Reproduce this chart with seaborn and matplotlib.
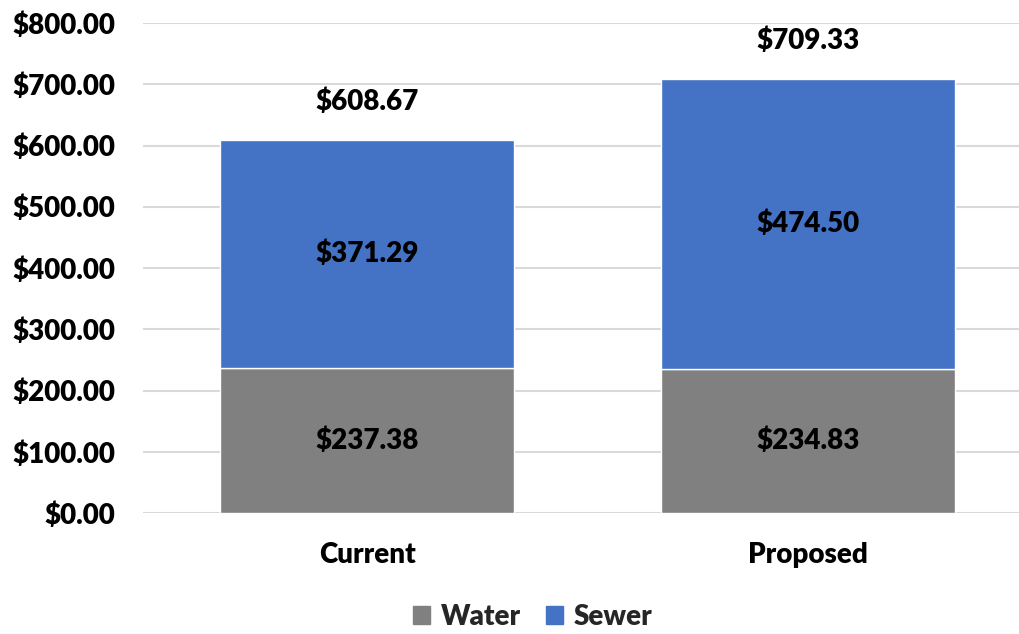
import matplotlib
matplotlib.use("Agg")
import matplotlib.pyplot as plt
import seaborn as sns
import pandas as pd
from matplotlib.ticker import FuncFormatter
from matplotlib.patches import Patch

categories = ["Current", "Proposed"]
water = [237.38, 234.83]
sewer = [371.29, 474.50]
totals = [608.67, 709.33]
yticks = [0, 100, 200, 300, 400, 500, 600, 700, 800]

WATER_C = "#808080"
SEWER_C = "#4472C4"

sns.set_theme(style="white")
plt.rcParams["font.family"] = ["Lato", "DejaVu Sans"]
plt.rcParams["font.weight"] = "bold"

df = pd.DataFrame({"cat": categories, "water": water, "sewer": sewer, "total": totals})

fig = plt.figure(figsize=(10.19, 6.34), dpi=100)
ax = fig.add_axes([143 / 1019, (634 - 513) / 634, (1019 - 143) / 1019, 490 / 634])

sns.barplot(data=df, x="cat", y="water", color=WATER_C, width=0.667,
            saturation=1, ax=ax, zorder=3)
sns.barplot(data=df, x="cat", y="sewer", bottom=df["water"], color=SEWER_C,
            width=0.667, saturation=1, ax=ax, zorder=3)

ax.set_xlim(-0.508, 1.478)
ax.set_ylim(0, 800)
ax.set_yticks(yticks)
ax.yaxis.set_major_formatter(FuncFormatter(lambda v, p: f"${v:,.2f}"))
ax.grid(axis="y", color="#D9D9D9", linewidth=1.5, zorder=0)
ax.set_axisbelow(True)
for s in ax.spines.values():
    s.set_visible(False)
ax.set_xlabel("")
ax.set_ylabel("")
ax.tick_params(axis="y", length=0, pad=20, labelsize=20)
ax.tick_params(axis="x", length=0, pad=21, labelsize=20)
for lab in ax.get_yticklabels() + ax.get_xticklabels():
    lab.set_fontweight("heavy")
    lab.set_color("black")

label_font = {"family": ["Lato", "DejaVu Sans"], "weight": "heavy", "size": 20}
for i in range(len(categories)):
    ax.text(i, water[i] / 2, f"${water[i]:,.2f}", ha="center", va="center",
            fontdict=label_font, color="black", zorder=5)
    ax.text(i, water[i] + sewer[i] / 2, f"${sewer[i]:,.2f}", ha="center",
            va="center", fontdict=label_font, color="black", zorder=5)
    ax.annotate(f"${totals[i]:,.2f}", (i, totals[i]), xytext=(0, 38),
                textcoords="offset pixels", ha="center", va="center",
                fontsize=20, fontweight="heavy", color="black")

handles = [Patch(color=WATER_C, label="Water"), Patch(color=SEWER_C, label="Sewer")]
fig.legend(handles=handles, loc="center", bbox_to_anchor=(533 / 1019, 1 - 617 / 634),
           ncol=2, frameon=False, handlelength=0.6, handleheight=0.6,
           handletextpad=0.4, columnspacing=0.9, prop={"weight": "heavy", "size": 20})

fig.savefig("out.png", dpi=100)
